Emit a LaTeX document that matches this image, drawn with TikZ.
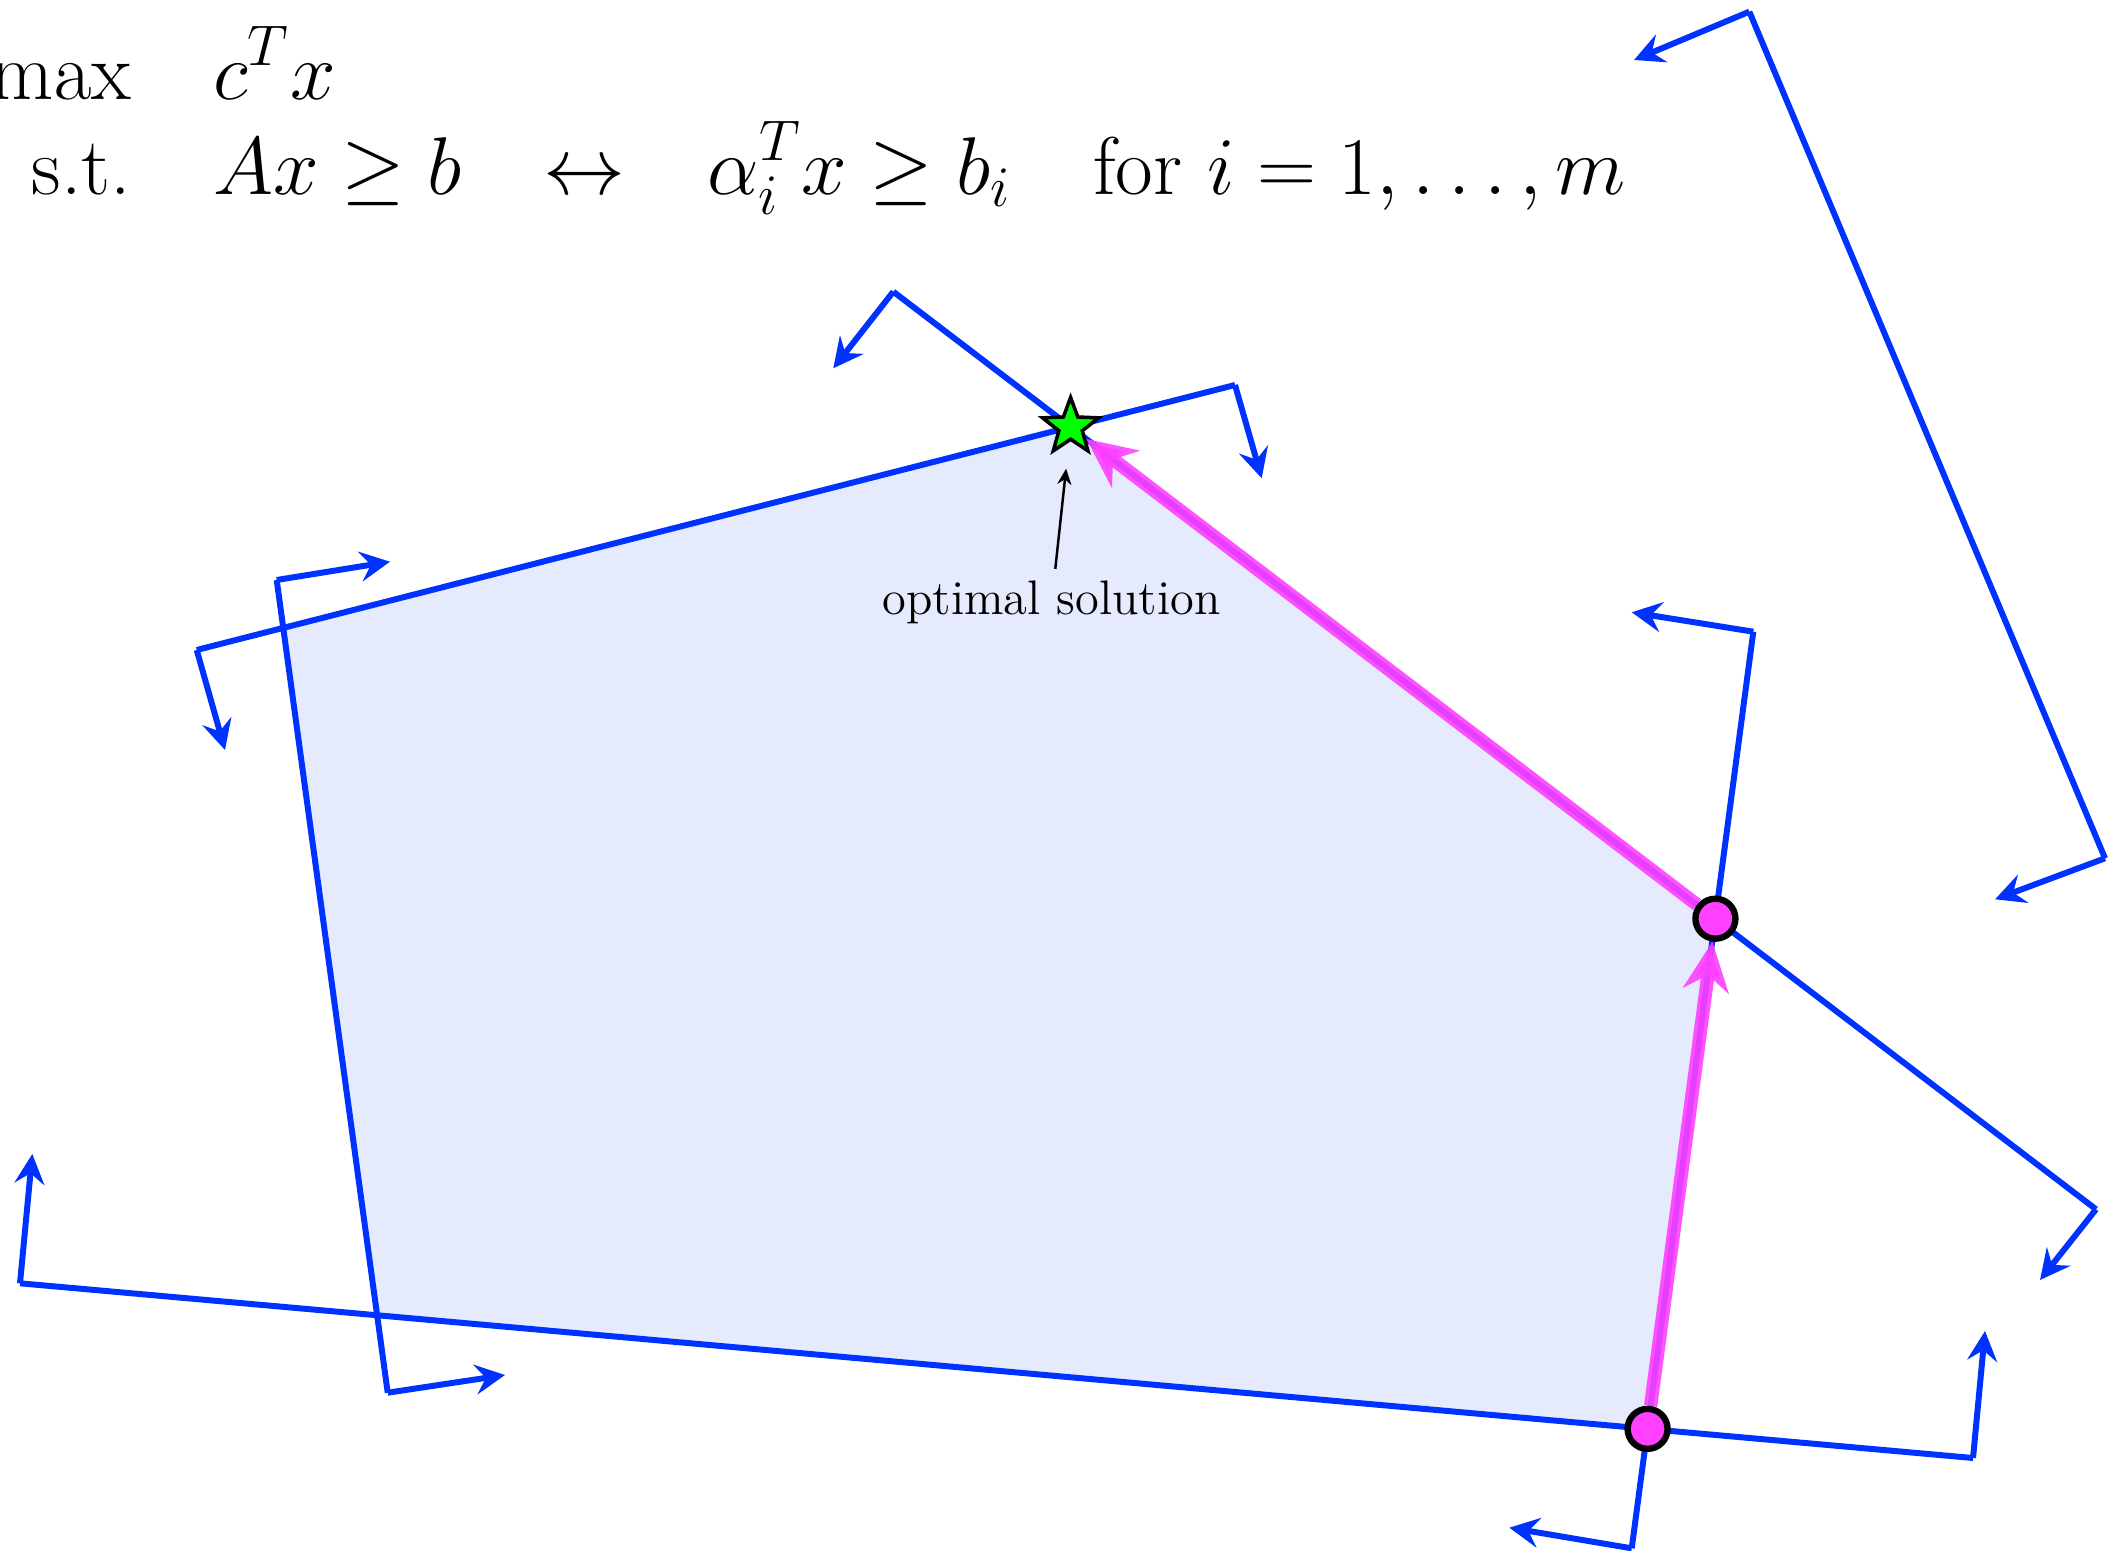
\RequirePackage{fix-cm}
\documentclass[tikz,border=0pt]{standalone}
\usepackage{amsmath,amssymb}
\usepackage{tikz}
\usetikzlibrary{shapes, positioning, arrows.meta, calc}
\definecolor{lpblue}{RGB}{0,50,255}
\definecolor{lpfill}{RGB}{229,234,253}
\definecolor{lpmag}{RGB}{255,64,255}

\begin{document}
\begin{tikzpicture}[hline/.style={draw=lpblue, line width=1.7pt},
    nvec/.style={hline, -{Stealth[length=8.5pt, width=8.5pt, inset=3pt]}},
    vert/.style={circle, draw=black, fill=lpmag, line width=1.8pt, minimum size=0.40cm, inner sep=0pt},
    optstar/.style={star, star points=5, star point ratio=2.4, draw=black, fill=green, line width=1pt, minimum size=0.59cm, inner sep=0pt},
    pivot/.style={draw=lpmag, fill=lpmag, opacity=0.9, line width=3.8pt, -{Stealth[length=14pt, width=13pt, inset=4.5pt]}},
    pointer/.style={draw=black, line width=0.7pt, -{Stealth[length=4.5pt, width=4pt]}, shorten >=7.5pt}]

    \useasboundingbox (0,0) rectangle (21.14,15.5);

    \coordinate (a1) at (1.967,9.000);
    \coordinate (a1n) at (2.250,8.000);
    \coordinate (a2) at (12.350,11.650);
    \coordinate (a2n) at (12.617,10.717);

    \coordinate (b1) at (2.767,9.700);
    \coordinate (b1n) at (3.900,9.883);
    \coordinate (b2) at (3.877,1.573);
    \coordinate (b2n) at (5.050,1.750);

    \coordinate (c1) at (0.200,2.667);
    \coordinate (c1n) at (0.323,3.960);
    \coordinate (c2) at (19.730,0.920);
    \coordinate (c2n) at (19.850,2.190);

    \coordinate (d1) at (8.933,12.583);
    \coordinate (d1n) at (8.333,11.817);
    \coordinate (d2) at (20.960,3.407);
    \coordinate (d2n) at (20.400,2.700);

    \coordinate (e1) at (17.533,9.183);
    \coordinate (e1n) at (16.317,9.377);
    \coordinate (e2) at (16.317,0.017);
    \coordinate (e2n) at (15.093,0.223);

    \coordinate (f1) at (17.493,15.383);
    \coordinate (f1n) at (16.340,14.900);
    \coordinate (f2) at (21.050,6.917);
    \coordinate (f2n) at (19.950,6.507);

    \coordinate (v1) at (intersection of a1--a2 and b1--b2);
    \coordinate (v2) at (intersection of a1--a2 and d1--d2);
    \coordinate (v3) at (intersection of d1--d2 and e1--e2);
    \coordinate (v4) at (intersection of e1--e2 and c1--c2);
    \coordinate (v5) at (intersection of c1--c2 and b1--b2);

    \fill[lpfill] (v1) -- (v2) -- (v3) -- (v4) -- (v5) -- cycle;

    \foreach \h in {a,b,c,d,e,f} {
        \draw[hline] (\h1) -- (\h2);
        \draw[nvec] (\h1) -- (\h1n);
        \draw[nvec] (\h2) -- (\h2n);
    }

    \node[optstar] (opt) at (v2) {};
    \node[vert] (p3) at (v3) {};
    \node[vert] (p4) at (v4) {};

    \draw[pivot] (p4) -- (p3);
    \draw[pivot] (p3) -- (opt);

    \node[anchor=base, font=\fontsize{13.8}{16}\selectfont] (lbl) at (10.516,9.35) {optimal solution};
    \draw[pointer] (lbl) -- (opt);

    \node[anchor=base west, inner sep=0pt, font=\fontsize{23.3}{24}\selectfont] (prob) at (-0.10,14.507)
        {\lineskiplimit=-50pt $\begin{aligned}[t] \max &\quad c^T x\\ \text{s.t.} &\quad Ax \geq b \quad{\leftrightarrow}\quad \alpha_i^T x \geq b_i \quad \text{for } i = 1, \ldots, m \end{aligned}$};
\end{tikzpicture}
\end{document}
